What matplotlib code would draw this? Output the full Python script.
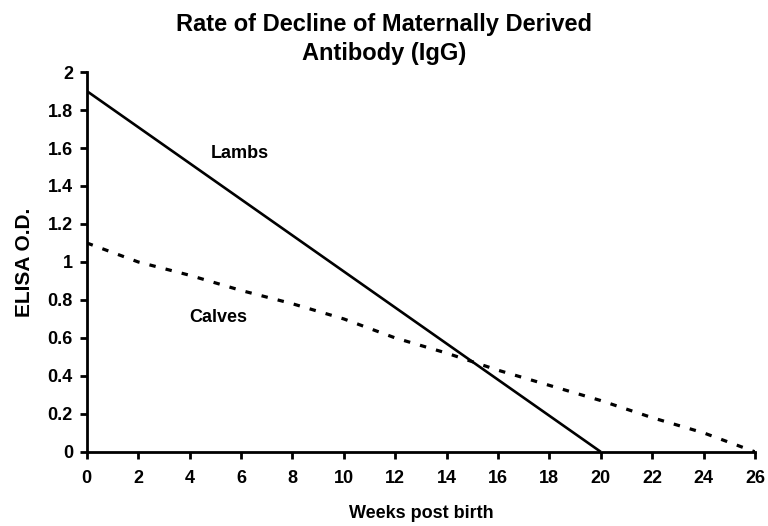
import matplotlib
matplotlib.use("Agg")
import matplotlib.pyplot as plt

# data
lamb_weeks = [0, 20]
lamb_od = [1.9, 0.0]

calf_weeks = [0, 1, 2, 4, 6, 8, 10, 12, 14, 16, 18, 20, 22, 24, 26]
calf_od = [1.1, 1.05, 1.0, 0.93, 0.85, 0.78, 0.7, 0.6, 0.52, 0.43, 0.35, 0.27, 0.18, 0.1, 0.0]

x_ticks = list(range(0, 27, 2))
y_ticks = [0, 0.2, 0.4, 0.6, 0.8, 1, 1.2, 1.4, 1.6, 1.8, 2]
y_tick_labels = ["0", "0.2", "0.4", "0.6", "0.8", "1", "1.2", "1.4", "1.6", "1.8", "2"]

plt.rcParams['font.family'] = ['Liberation Sans', 'DejaVu Sans']
plt.rcParams['font.weight'] = 'bold'

fig = plt.figure(figsize=(7.68, 5.26), dpi=100)
ax = fig.add_axes([0.113, 0.141, 0.870, 0.722])

ax.plot(lamb_weeks, lamb_od, color='black', lw=1.9, solid_capstyle='butt')
ax.plot(calf_weeks, calf_od, color='black', lw=2.3, linestyle=(0, (2, 3.2)))

ax.set_xlim(0, 26)
ax.set_ylim(0, 2)
ax.set_xticks(x_ticks)
ax.set_yticks(y_ticks)
ax.set_yticklabels(y_tick_labels)
ax.tick_params(direction='out', length=5, width=2, labelsize=13, pad=5)
ax.tick_params(axis='x', pad=8)

for s in ['top', 'right']:
    ax.spines[s].set_visible(False)
for s in ['left', 'bottom']:
    ax.spines[s].set_linewidth(2)

ax.text(5.95, 1.57, "Lambs", fontsize=13, fontweight='bold', ha='center', va='center')
ax.text(5.1, 0.705, "Calves", fontsize=13, fontweight='bold', ha='center', va='center')

ax.set_xlabel("Weeks post birth", fontsize=13, fontweight='bold', labelpad=13)
ax.set_ylabel("ELISA O.D.", fontsize=15, fontweight='bold', labelpad=10)
fig.suptitle("Rate of Decline of Maternally Derived\nAntibody (IgG)", fontsize=17,
             fontweight='bold', x=0.5, y=0.975, linespacing=1.3)

fig.savefig("out.png", dpi=100)
